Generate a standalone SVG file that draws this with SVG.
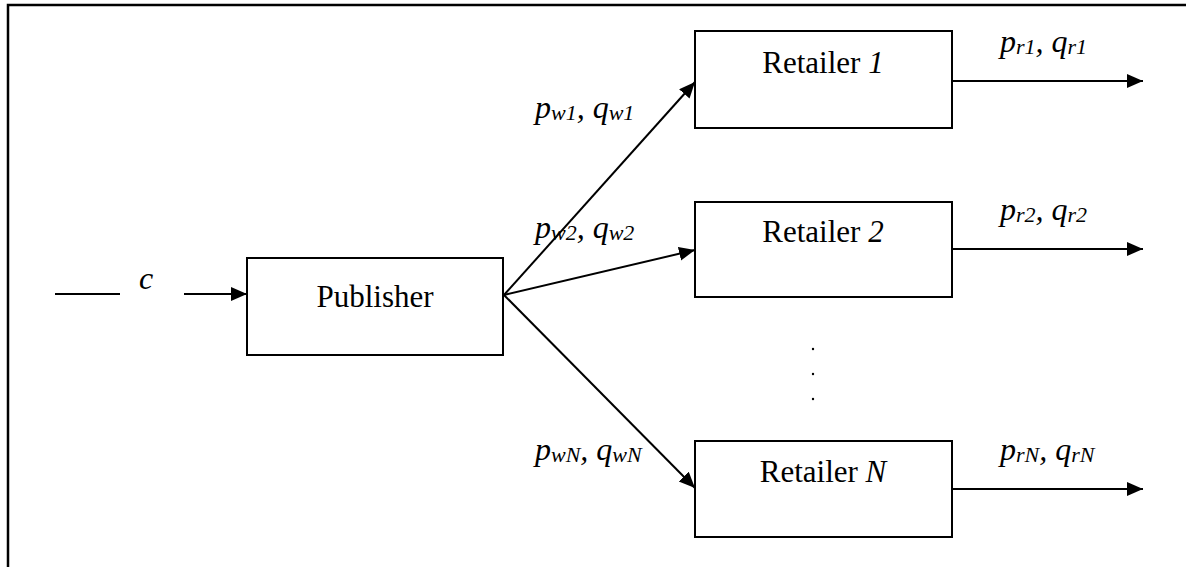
<svg xmlns="http://www.w3.org/2000/svg" width="1186" height="567" viewBox="0 0 1186 567">
<defs>
<style>
.box{fill:#fff;stroke:#000;stroke-width:2}
.ln{fill:none;stroke:#000;stroke-width:2;marker-end:url(#ah)}
text{font-family:"Liberation Serif","Times New Roman",Times,serif;fill:#000}
.t{font-size:31px}
.m{font-size:32px;font-style:italic}
.s{font-size:22px}
</style>
<marker id="ah" markerUnits="userSpaceOnUse" markerWidth="17" markerHeight="15" refX="16" refY="7" orient="auto">
<path d="M0,0 L16,7 L0,14 z" fill="#000"/>
</marker>
</defs>
<rect width="1186" height="567" fill="#fff"/>
<path d="M8 567 V5 H1186" fill="none" stroke="#000" stroke-width="2.5"/>
<g id="connectors">
<path class="ln" d="M55 294 H120 M184 294 H247"/>
<path class="ln" d="M504 295 L695 82"/>
<path class="ln" d="M504 295 L695 250"/>
<path class="ln" d="M504 295 L695 488"/>
<path class="ln" d="M952 81 H1143"/>
<path class="ln" d="M952 249 H1143"/>
<path class="ln" d="M952 489 H1143"/>
</g>
<g id="publisher">
<rect class="box" x="247" y="258" width="256" height="97"/>
<text class="t" x="375" y="307" text-anchor="middle">Publisher</text>
</g>
<g id="retailer1">
<rect class="box" x="695" y="31" width="257" height="97"/>
<text class="t" x="823" y="73" text-anchor="middle">Retailer <tspan font-style="italic">1</tspan></text>
</g>
<g id="retailer2">
<rect class="box" x="695" y="202" width="257" height="95"/>
<text class="t" x="823" y="242" text-anchor="middle">Retailer <tspan font-style="italic">2</tspan></text>
</g>
<g id="retailerN">
<rect class="box" x="695" y="441" width="257" height="96"/>
<text class="t" x="823" y="482" text-anchor="middle">Retailer <tspan font-style="italic">N</tspan></text>
</g>
<g id="labels">
<text class="m" x="139" y="289">c</text>
<text class="m" x="535" y="118">p<tspan class="s" dy="2">w1</tspan><tspan dy="-2">, q</tspan><tspan class="s" dy="2">w1</tspan></text>
<text class="m" x="535" y="238">p<tspan class="s" dy="2">w2</tspan><tspan dy="-2">, q</tspan><tspan class="s" dy="2">w2</tspan></text>
<text class="m" x="535" y="460">p<tspan class="s" dy="2">wN</tspan><tspan dy="-2">, q</tspan><tspan class="s" dy="2">wN</tspan></text>
<text class="m" x="1000" y="52">p<tspan class="s" dy="2">r1</tspan><tspan dy="-2">, q</tspan><tspan class="s" dy="2">r1</tspan></text>
<text class="m" x="1000" y="220">p<tspan class="s" dy="2">r2</tspan><tspan dy="-2">, q</tspan><tspan class="s" dy="2">r2</tspan></text>
<text class="m" x="1000" y="460">p<tspan class="s" dy="2">rN</tspan><tspan dy="-2">, q</tspan><tspan class="s" dy="2">rN</tspan></text>
<circle cx="813" cy="349" r="1.2"/>
<circle cx="813" cy="374" r="1.2"/>
<circle cx="813" cy="399" r="1.2"/>
</g>
</svg>
